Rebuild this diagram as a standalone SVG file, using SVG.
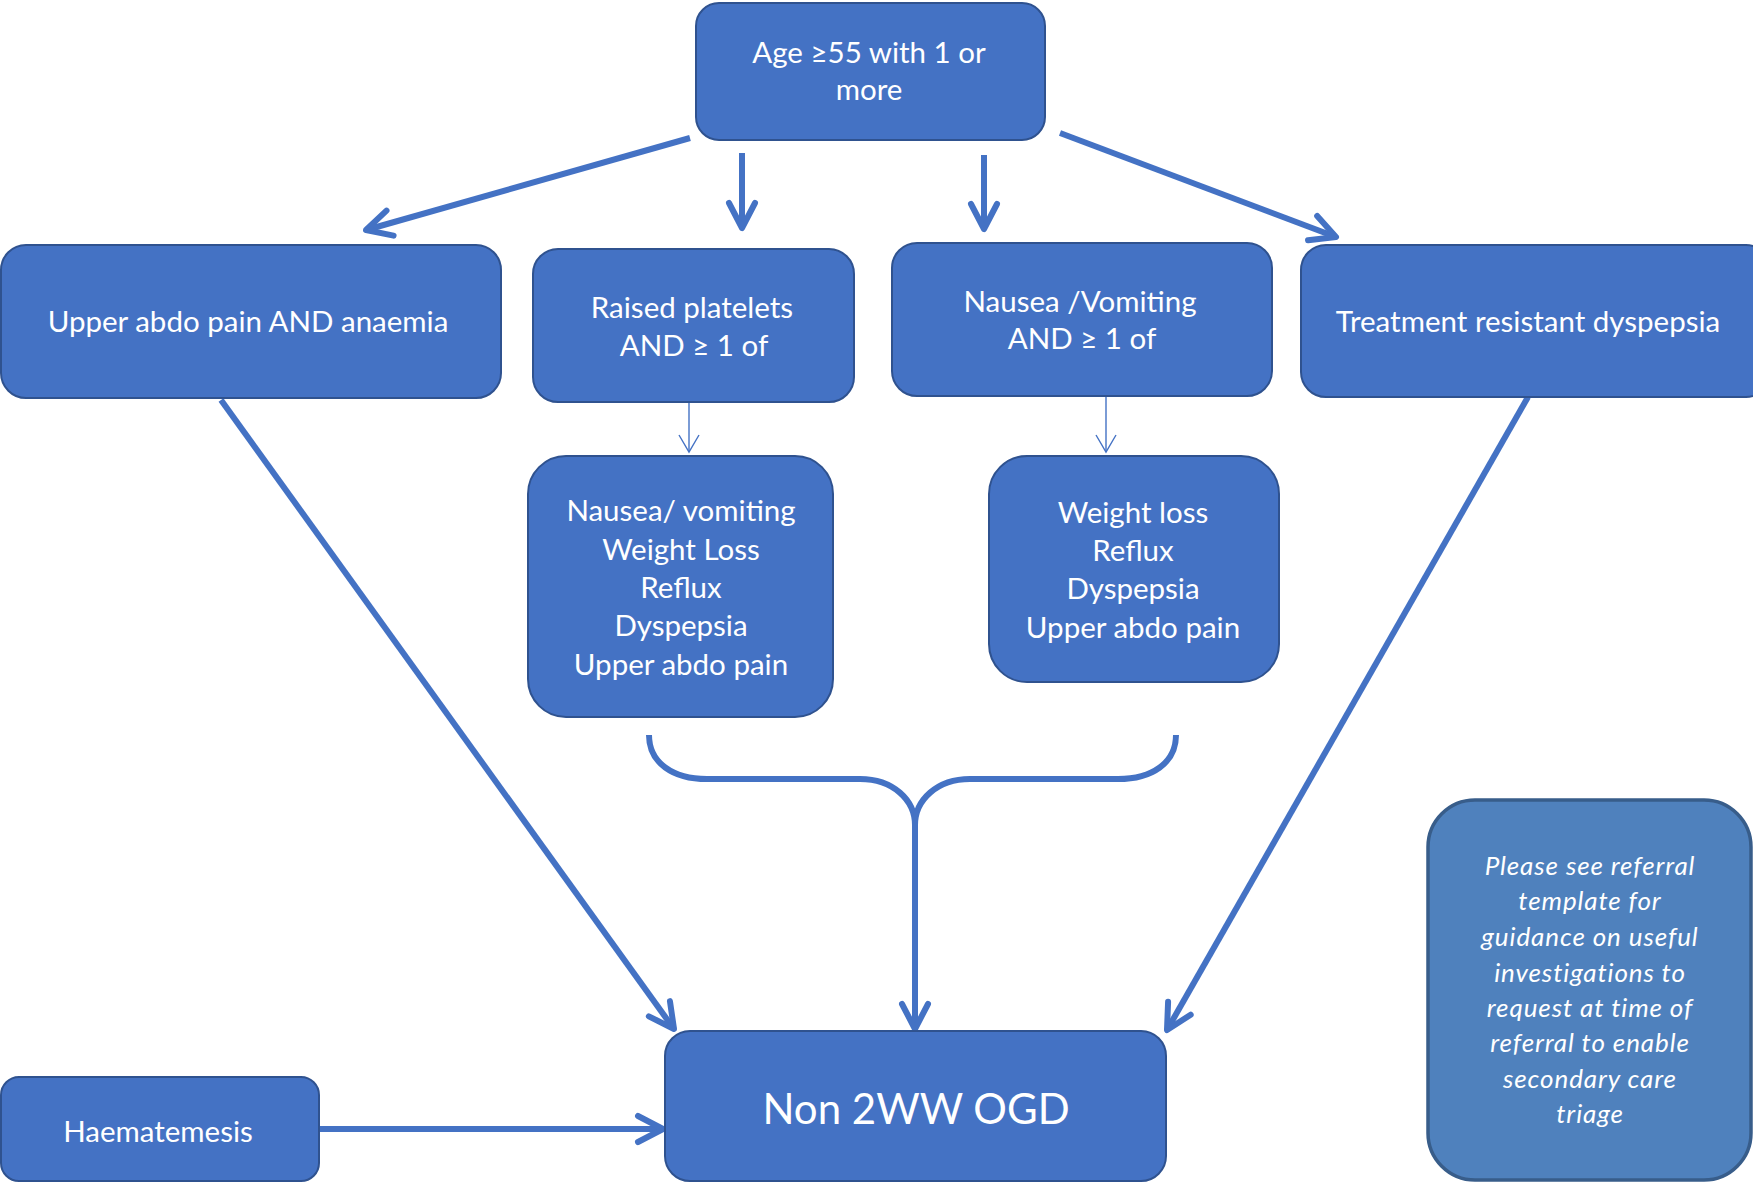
<svg xmlns="http://www.w3.org/2000/svg" width="1753" height="1182" viewBox="0 0 1753 1182">
<style>
.n{fill:#4472C4;stroke:#2F528F;stroke-width:2}
.note{fill:#4F81BD;stroke:#385D8A;stroke-width:3.5}
.t{font-family:Lato,"Liberation Sans",sans-serif;font-size:29.5px;fill:#FFFFFF;text-anchor:middle}
.big{font-size:42px}
.it{font-style:italic;font-size:26px;letter-spacing:0.9px}
.c{fill:none;stroke:#4472C4;stroke-width:6}
.thin{fill:none;stroke:#4472C4;stroke-width:1.4}
</style>
<defs>
<marker id="ah" markerUnits="userSpaceOnUse" orient="auto" overflow="visible" refX="0" refY="0" markerWidth="1" markerHeight="1">
<path d="M-25,-13 L0,0 L-25,13" fill="none" stroke="#4472C4" stroke-width="6" stroke-linecap="round" stroke-linejoin="round"/>
</marker>
<marker id="ahs" markerUnits="userSpaceOnUse" orient="auto" overflow="visible" refX="0" refY="0" markerWidth="1" markerHeight="1">
<path d="M-17,-10 L0,0 L-17,10" fill="none" stroke="#4472C4" stroke-width="1.4"/>
</marker>
</defs>
<rect width="1753" height="1182" fill="#FFFFFF"/>
<g id="connectors">
<line class="c" x1="690" y1="138" x2="366" y2="230" marker-end="url(#ah)"/>
<line class="c" x1="742" y1="153" x2="742" y2="228" marker-end="url(#ah)"/>
<line class="c" x1="984" y1="155" x2="984" y2="229" marker-end="url(#ah)"/>
<line class="c" x1="1060" y1="133" x2="1336" y2="237" marker-end="url(#ah)"/>
<line class="thin" x1="689" y1="402" x2="689" y2="452" marker-end="url(#ahs)"/>
<line class="thin" x1="1106" y1="396" x2="1106" y2="452" marker-end="url(#ahs)"/>
<line class="c" x1="221" y1="400" x2="674" y2="1029" marker-end="url(#ah)"/>
<line class="c" x1="1528" y1="397" x2="1167" y2="1030" marker-end="url(#ah)"/>
<path class="c" d="M649,735 C649,763 673,779 707,779 L860,779 C893,779 915,800 915,825"/>
<path class="c" d="M1176,735 C1176,763 1152,779 1118,779 L970,779 C937,779 915,800 915,825"/>
<line class="c" x1="915" y1="820" x2="915" y2="1029" marker-end="url(#ah)"/>
<line class="c" x1="319" y1="1129" x2="663" y2="1129" marker-end="url(#ah)"/>
</g>
<g id="age">
<rect class="n" x="696" y="3" width="349" height="137" rx="23"/>
<text class="t" x="869" y="63">Age ≥55 with 1 or</text>
<text class="t" x="869" y="100">more</text>
</g>
<g id="upper-abdo-anaemia">
<rect class="n" x="1" y="245" width="500" height="153" rx="25"/>
<text class="t" x="248" y="332">Upper abdo pain AND anaemia</text>
</g>
<g id="raised-platelets">
<rect class="n" x="533" y="249" width="321" height="153" rx="25"/>
<text class="t" x="692" y="318">Raised platelets</text>
<text class="t" x="694" y="356">AND ≥ 1 of</text>
</g>
<g id="nausea-vomiting">
<rect class="n" x="892" y="243" width="380" height="153" rx="25"/>
<text class="t" x="1080" y="312">Nausea /Vomiting</text>
<text class="t" x="1082" y="349">AND ≥ 1 of</text>
</g>
<g id="treatment-resistant">
<rect class="n" x="1301" y="245" width="470" height="152" rx="25"/>
<text class="t" x="1528" y="332">Treatment resistant dyspepsia</text>
</g>
<g id="list-platelets">
<rect class="n" x="528" y="456" width="305" height="261" rx="38"/>
<text class="t" x="681" y="521">Nausea/ vomiting</text>
<text class="t" x="681" y="560">Weight Loss</text>
<text class="t" x="681" y="598">Reflux</text>
<text class="t" x="681" y="636">Dyspepsia</text>
<text class="t" x="681" y="675">Upper abdo pain</text>
</g>
<g id="list-nausea">
<rect class="n" x="989" y="456" width="290" height="226" rx="38"/>
<text class="t" x="1133" y="523">Weight loss</text>
<text class="t" x="1133" y="561">Reflux</text>
<text class="t" x="1133" y="599">Dyspepsia</text>
<text class="t" x="1133" y="638">Upper abdo pain</text>
</g>
<g id="non-2ww-ogd">
<rect class="n" x="665" y="1031" width="501" height="150" rx="25"/>
<text class="t big" x="916" y="1124">Non 2WW OGD</text>
</g>
<g id="haematemesis">
<rect class="n" x="1" y="1077" width="318" height="104" rx="18"/>
<text class="t" x="158" y="1142">Haematemesis</text>
</g>
<g id="note">
<rect class="note" x="1428" y="800" width="323" height="380" rx="47"/>
<text class="t it" x="1590" y="875">Please see referral</text>
<text class="t it" x="1590" y="910">template for</text>
<text class="t it" x="1590" y="946">guidance on useful</text>
<text class="t it" x="1590" y="982">investigations to</text>
<text class="t it" x="1590" y="1017">request at time of</text>
<text class="t it" x="1590" y="1052">referral to enable</text>
<text class="t it" x="1590" y="1088">secondary care</text>
<text class="t it" x="1590" y="1123">triage</text>
</g>
</svg>
